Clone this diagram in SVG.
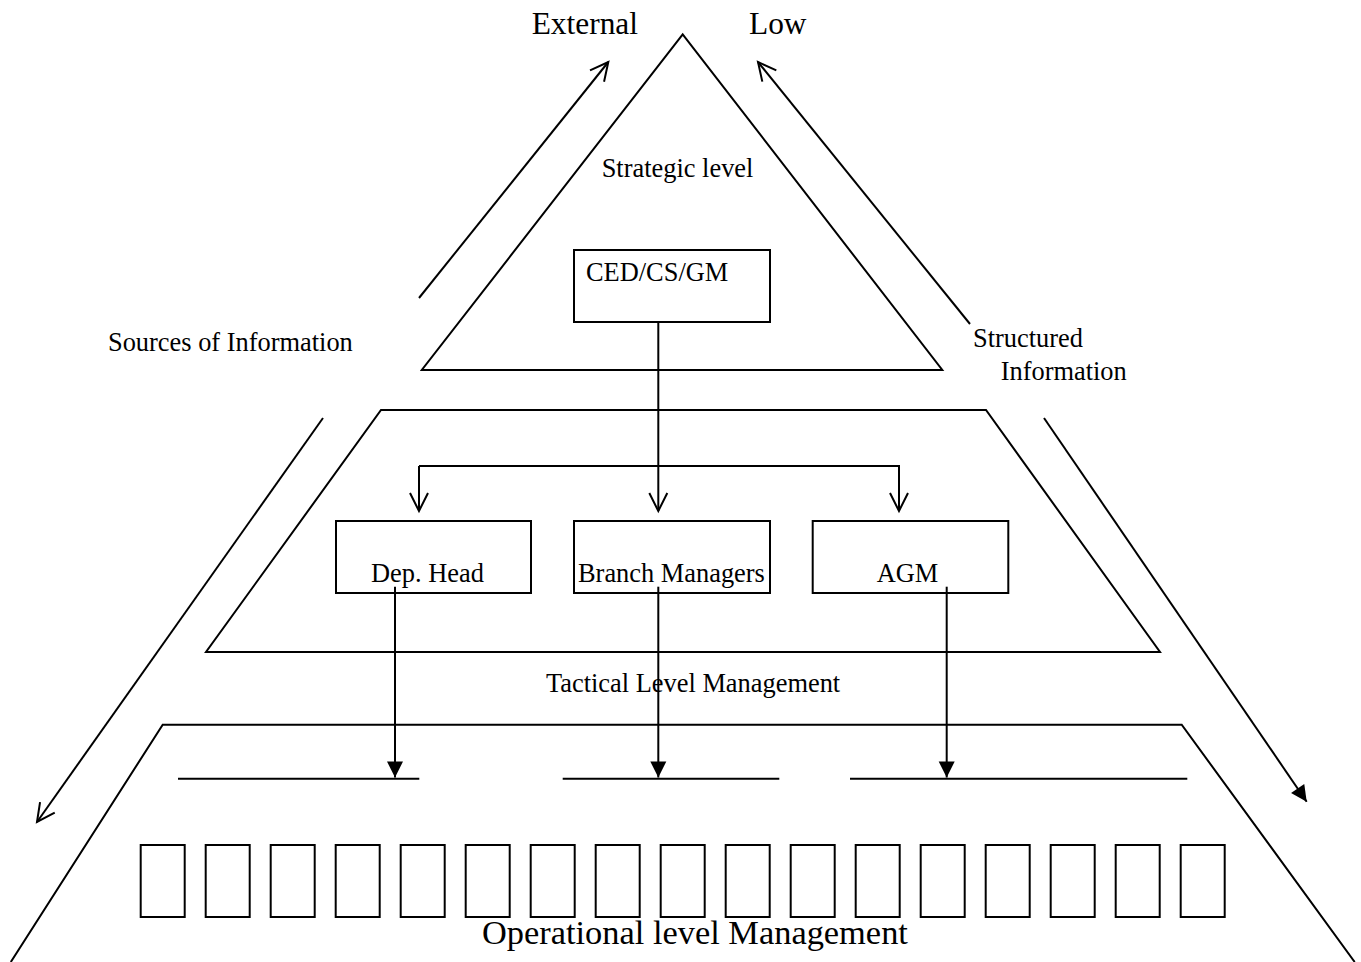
<svg xmlns="http://www.w3.org/2000/svg" width="1361" height="962" viewBox="0 0 1361 962">
<defs>
<style>
.ln{stroke:#000;stroke-width:2;fill:none}
.bx{stroke:#000;stroke-width:2;fill:#fff}
.sb{stroke:#000;stroke-width:2;fill:none}
text{font-family:"Liberation Serif","Times New Roman",serif;fill:#000}
.s{font-size:26.4px}
.m{font-size:31.4px}
.l{font-size:34.4px}
</style>
<marker id="open" markerUnits="userSpaceOnUse" markerWidth="40" markerHeight="40" viewBox="-20 -20 40 40" refX="0" refY="0" orient="auto" overflow="visible">
<path d="M-18,-9 L0,0 L-18,9" fill="none" stroke="#000" stroke-width="2"/>
</marker>
<marker id="fill" markerUnits="userSpaceOnUse" markerWidth="40" markerHeight="40" viewBox="-20 -20 40 40" refX="0" refY="0" orient="auto" overflow="visible">
<path d="M0,0 L-16,-8 L-16,8 Z" fill="#000" stroke="none"/>
</marker>
</defs>
<rect width="1361" height="962" fill="#fff"/>

<g id="strategic-level">
<polygon class="ln" points="682.7,34.3 421.8,370 942.3,370"/>
<text class="s" x="601.7" y="176.7">Strategic level</text>
</g>

<g id="tactical-level">
<polygon class="ln" points="381,410 986,410 1160,652 206,652"/>
<text class="s" x="546" y="692">Tactical Level Management</text>
</g>

<g id="operational-level">
<polyline class="ln" points="10.8,962 162.7,724.7 1181.7,724.7 1354.7,962"/>
<g id="staff-boxes">
<rect class="sb" x="140.7" y="845" width="44" height="72"/>
<rect class="sb" x="205.7" y="845" width="44" height="72"/>
<rect class="sb" x="270.7" y="845" width="44" height="72"/>
<rect class="sb" x="335.7" y="845" width="44" height="72"/>
<rect class="sb" x="400.7" y="845" width="44" height="72"/>
<rect class="sb" x="465.7" y="845" width="44" height="72"/>
<rect class="sb" x="530.7" y="845" width="44" height="72"/>
<rect class="sb" x="595.7" y="845" width="44" height="72"/>
<rect class="sb" x="660.7" y="845" width="44" height="72"/>
<rect class="sb" x="725.7" y="845" width="44" height="72"/>
<rect class="sb" x="790.7" y="845" width="44" height="72"/>
<rect class="sb" x="855.7" y="845" width="44" height="72"/>
<rect class="sb" x="920.7" y="845" width="44" height="72"/>
<rect class="sb" x="985.7" y="845" width="44" height="72"/>
<rect class="sb" x="1050.7" y="845" width="44" height="72"/>
<rect class="sb" x="1115.7" y="845" width="44" height="72"/>
<rect class="sb" x="1180.7" y="845" width="44" height="72"/>
</g>
<text class="l" x="482" y="944">Operational level Management</text>
</g>

<g id="ced-cs-gm">
<rect class="bx" x="574" y="250" width="196" height="72"/>
<text class="s" x="586" y="281">CED/CS/GM</text>
</g>

<g id="dep-head">
<rect class="bx" x="336" y="521" width="195" height="72"/>
<text class="s" x="371" y="581.7">Dep. Head</text>
</g>

<g id="branch-managers">
<rect class="bx" x="574" y="521" width="196" height="72"/>
<text class="s" x="578" y="581.7">Branch Managers</text>
</g>

<g id="agm">
<rect class="bx" x="812.7" y="521" width="195.6" height="72"/>
<text class="s" x="876.7" y="581.7">AGM</text>
</g>

<g id="labels">
<text class="m" x="531.7" y="34">External</text>
<text class="m" x="749" y="34">Low</text>
<text class="s" x="108" y="350.7">Sources of Information</text>
<text class="s" x="973" y="347">Structured</text>
<text class="s" x="1000.7" y="380">Information</text>
</g>

<g id="connectors">
<line class="ln" x1="658.3" y1="322" x2="658.3" y2="511" marker-end="url(#open)"/>
<polyline class="ln" points="419,466 899,466 899,511" marker-end="url(#open)"/>
<line class="ln" x1="419" y1="466" x2="419" y2="511" marker-end="url(#open)"/>
<line class="ln" x1="395" y1="586.7" x2="395" y2="777.5" marker-end="url(#fill)"/>
<line class="ln" x1="658.3" y1="586.7" x2="658.3" y2="777.5" marker-end="url(#fill)"/>
<line class="ln" x1="946.7" y1="586.7" x2="946.7" y2="777.5" marker-end="url(#fill)"/>
<line class="ln" x1="178" y1="778.7" x2="419.3" y2="778.7"/>
<line class="ln" x1="562.7" y1="778.7" x2="779.3" y2="778.7"/>
<line class="ln" x1="850" y1="778.7" x2="1187.3" y2="778.7"/>
<line class="ln" x1="419" y1="298" x2="608.3" y2="62" marker-end="url(#open)"/>
<line class="ln" x1="970" y1="324" x2="758" y2="62" marker-end="url(#open)"/>
<line class="ln" x1="323" y1="418" x2="37" y2="822" marker-end="url(#open)"/>
<line class="ln" x1="1044" y1="418" x2="1306.7" y2="801.7" marker-end="url(#fill)"/>
</g>
</svg>
